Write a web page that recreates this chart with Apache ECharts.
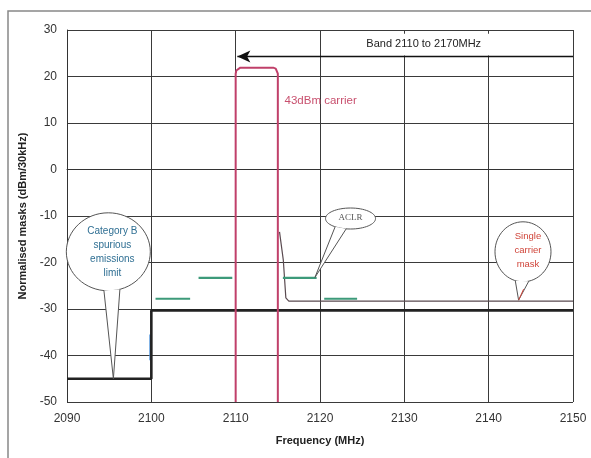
<!DOCTYPE html>
<html><head><meta charset="utf-8">
<script src="https://cdn.jsdelivr.net/npm/echarts@6/dist/echarts.min.js"></script>
<style>html,body{margin:0;padding:0;background:#fff}#c{width:591px;height:458px}</style>
</head><body><div id="c"></div>
<script>
// ---- data ----
const xMin = 2090, xMax = 2150, xStep = 10;
const yMin = -50, yMax = 30, yStep = 10;
const xTitle = 'Frequency (MHz)';
const yTitle = 'Normalised masks (dBm/30kHz)';

const spuriousLimit = [[2090,-45],[2100,-45],[2100,-30.3],[2150,-30.3]];
const spuriousBlue = [[2099.85,-35.5],[2099.85,-41]];
const aclrMask = [[2100.5,-27.8],[2104.6,-27.8],[2105,'-'],[2105.6,-23.3],[2109.6,-23.3],[2112,'-'],
                  [2115.6,-23.3],[2119.6,-23.3],[2120,'-'],[2120.5,-27.8],[2124.4,-27.8]];
const carrier = [[2110,-50],[2110,20.6],[2110.08,21.3],[2110.25,21.7],[2110.55,21.9],[2114.45,21.9],
                 [2114.75,21.7],[2114.92,21.3],[2115,20.6],[2115,-50]];
const singleCarrierMask = [[2115.2,-13.4],[2115.65,-19.5],[2115.95,-27.6],[2116.3,-28.3],[2150,-28.3]];
const bandArrow = [[2150,24.3],[2110.2,24.3]];
const bandText = 'Band 2110 to 2170MHz';
const carrierText = '43dBm carrier';
const catBText = ['Category B','spurious','emissions','limit'];
const aclrText = ['ACLR'];
const singleText = ['Single','carrier','mask'];

// ---- layout of annotations (data-anchored) ----
const callouts = [
  {c:[2094.9,-17.7], rx:42, ry:39, tip:[2095.5,-45], ang:[74,96], lines:catBText,
   color:'#2f6f93', font:'10px "Liberation Sans", Arial, sans-serif', lh:14, dx:4, dy:0},
  {c:[2123.62,-10.54], rx:25, ry:10.5, tip:[2119.4,-23.2], ang:[100,128], lines:aclrText,
   color:'#555', font:'9px "Liberation Serif", serif', lh:12, dx:0, dy:-1},
  {c:[2144.07,-17.7], rx:28, ry:30, tip:[2143.55,-28.1], ang:[78,106], lines:singleText,
   color:'#d0453a', font:'9.5px "Liberation Sans", Arial, sans-serif', lh:14, dx:5, dy:-1}
];

const FONT = '"Liberation Sans", Arial, sans-serif';
const chart = echarts.init(document.getElementById('c'), null, {renderer:'canvas'});
chart.setOption({
  backgroundColor:'#fff',
  animation:false,
  grid:{left:67, right:18, top:30, bottom:56, containLabel:false},
  xAxis:{type:'value', min:xMin, max:xMax, interval:xStep,
    name:xTitle, nameLocation:'middle', nameGap:33,
    nameTextStyle:{fontFamily:FONT, fontSize:11, fontWeight:'bold', color:'#222'},
    axisLine:{show:true, lineStyle:{color:'#333', width:1}},
    axisTick:{show:false},
    axisLabel:{fontFamily:FONT, fontSize:12, color:'#333', margin:11, formatter:v=>String(v)},
    splitLine:{show:true, lineStyle:{color:'#3a3a3a', width:1}}},
  yAxis:{type:'value', min:yMin, max:yMax, interval:yStep,
    name:yTitle, nameLocation:'middle', nameGap:35,
    nameTextStyle:{fontFamily:FONT, fontSize:11, fontWeight:'bold', color:'#222'},
    axisLine:{show:true, lineStyle:{color:'#333', width:1}},
    axisTick:{show:false},
    axisLabel:{fontFamily:FONT, fontSize:12, color:'#333', margin:10},
    splitLine:{show:true, lineStyle:{color:'#3a3a3a', width:1}}},
  series:[
    {type:'line', data:spuriousBlue, showSymbol:false, lineStyle:{color:'#4a90d9', width:1.5}, z:2},
    {type:'line', data:spuriousLimit, showSymbol:false, lineStyle:{color:'#222', width:2.6}, z:3},
    {type:'line', data:singleCarrierMask, showSymbol:false, lineStyle:{color:'#5a4a50', width:1.2}, z:4},
    {type:'line', data:bandArrow, z:7, silent:true,
      symbol:(v,p)=>p.dataIndex===1?'arrow':'none', symbolSize:[9,13], symbolRotate:90,
      symbolOffset:[0,0],
      itemStyle:{color:'#111'}, lineStyle:{color:'#111', width:1.3}},
    {type:'line', data:aclrMask, showSymbol:false, connectNulls:false, lineStyle:{color:'#3d9a7a', width:2.2}, z:5},
    {type:'line', data:carrier, showSymbol:false, lineStyle:{color:'#c0406a', width:2}, z:6}
  ]
});

function px(p){ return chart.convertToPixel({gridIndex:0}, p); }
const g = [];
// outer frame
g.push({type:'polyline', shape:{points:[[8,458],[8,11],[591,11]]}, style:{stroke:'#888', lineWidth:1.5, fill:null}, z:1});
// white label box behind band text
const b1 = px([2120,29.2]), b2 = px([2150,24.3]);
g.push({type:'rect', z:1, shape:{x:b1[0]+1, y:b1[1], width:b2[0]-b1[0]-2, height:b2[1]-b1[1]-1}, style:{fill:'#fff'}});
// band text
const bp = px([2132.3,27.0]);
g.push({type:'text', x:bp[0], y:bp[1], z:10, style:{text:bandText, fill:'#222', font:'11px '+FONT, align:'center', verticalAlign:'middle'}});
const cp = px([2115.8,14.8]);
g.push({type:'text', x:cp[0], y:cp[1], z:10, style:{text:carrierText, fill:'#c8506e', font:'11.5px '+FONT, align:'left', verticalAlign:'middle'}});
// callouts
callouts.forEach((b,i)=>{
  const c = px(b.c), t = px(b.tip);
  const a1 = b.ang[0]*Math.PI/180, a2 = b.ang[1]*Math.PI/180;
  const p1 = [c[0]+b.rx*Math.cos(a1), c[1]+b.ry*Math.sin(a1)];
  const p2 = [c[0]+b.rx*Math.cos(a2), c[1]+b.ry*Math.sin(a2)];
  g.push({type:'ellipse', z:20, shape:{cx:c[0], cy:c[1], rx:b.rx, ry:b.ry}, style:{fill:'#fff', stroke:'#555', lineWidth:1}});
  g.push({type:'polygon', z:21, shape:{points:[p1,p2,t]}, style:{fill:'#fff', stroke:null}});
  g.push({type:'polyline', z:22, shape:{points:[p1,t,p2]}, style:{fill:null, stroke:'#555', lineWidth:1}});
  g.push({type:'text', z:23, x:c[0]+b.dx, y:c[1]+b.dy, style:{text:b.lines.join('\n'), fill:b.color, font:b.font,
    lineHeight:b.lh, align:'center', verticalAlign:'middle'}});
  if (i===2){
    g.push({type:'line', z:24, shape:{x1:t[0], y1:t[1], x2:t[0]+5, y2:t[1]-11}, style:{stroke:'#d0453a', lineWidth:1}});
  }
});
chart.setOption({graphic:g});
</script>
</body></html>
